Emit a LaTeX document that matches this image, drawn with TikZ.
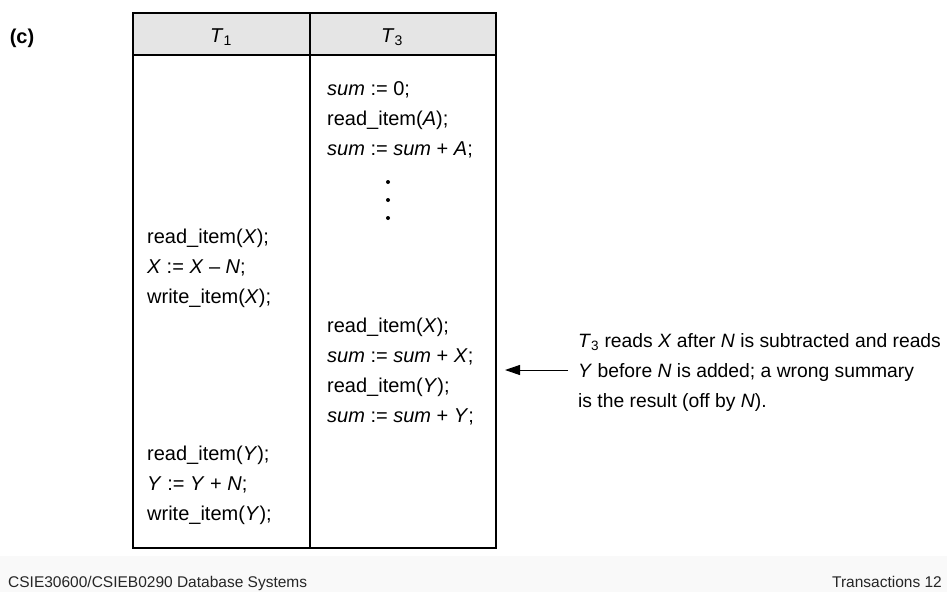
\documentclass[tikz,border=0pt]{standalone}
\usepackage{fontspec}
\setmainfont{Liberation Sans}
\usetikzlibrary{arrows.meta,positioning}

\begin{document}
\begin{tikzpicture}[>={Triangle[length=15pt,width=10pt]},x=1pt,y=-1pt]
\tikzset{
  code/.style={anchor=base west,inner sep=0pt,align=left,font=\fontsize{20}{30}\selectfont},
  hdr/.style={font=\fontsize{20}{24}\selectfont},
  foot/.style={inner sep=0pt,text=black!85,font=\fontsize{15.5}{18}\selectfont},
}
\useasboundingbox (0,0) rectangle (947,592);
\fill[gray!5] (0,556) rectangle (947,592);
\def\xl{133}
\def\xm{310}
\def\xr{496}
\def\ytop{13}
\def\yhead{55}
\def\ybot{548}

% table
\filldraw[fill=gray!20,line width=1.2pt] (\xl,\ytop) rectangle (\xr,\yhead);
\draw[line width=1.2pt] (\xl,\yhead) rectangle (\xr,\ybot);
\draw[line width=1.2pt] (\xm,\ytop) -- (\xm,\ybot);

\node[font=\bfseries\fontsize{20}{24}\selectfont] (part) at (22,38) {(c)};
\node[hdr] (h1) at (221,37) {\textit{T}\textsubscript{1}};
\node[hdr] (h3) at (392,37) {\textit{T}\textsubscript{3}};

% schedule (base = last line)
\node[code] (sa) at (327,155) {\textit{sum} := 0;\\ read\_item(\textit{A});\\ \textit{sum} := \textit{sum} + \textit{A};};
\foreach \y in {182,200,218} {
	\fill (388,\y) circle (2);
}
\node[code] (ta) at (147,303) {read\_item(\textit{X});\\ \textit{X} := \textit{X} – \textit{N};\\ write\_item(\textit{X});};
\node[code] (sb) at (327,422) {read\_item(\textit{X});\\ \textit{sum} := \textit{sum} + \textit{X};\\ read\_item(\textit{Y});\\ \textit{sum} := \textit{sum} + \textit{Y};};
\node[code] (tb) at (147,520) {read\_item(\textit{Y});\\ \textit{Y} := \textit{Y} + \textit{N};\\ write\_item(\textit{Y});};

% remark
\node[code,font=\fontsize{19.3}{30}\selectfont] (note) at (578,407) {\textit{T}\textsubscript{3} reads \textit{X} after \textit{N} is subtracted and reads\\ \textit{Y} before \textit{N} is added; a wrong summary\\ is the result (off by \textit{N}).};
\coordinate (tail) at (568,370);
\coordinate (tip) at (505,370);
\draw[->,line width=1pt] (tail) -- (tip);

\node[foot,anchor=base west] (course) at (8,587) {CSIE30600/CSIEB0290 Database Systems};
\node[foot,anchor=base east] (page) at (942,587) {Transactions 12};
\end{tikzpicture}
\end{document}
